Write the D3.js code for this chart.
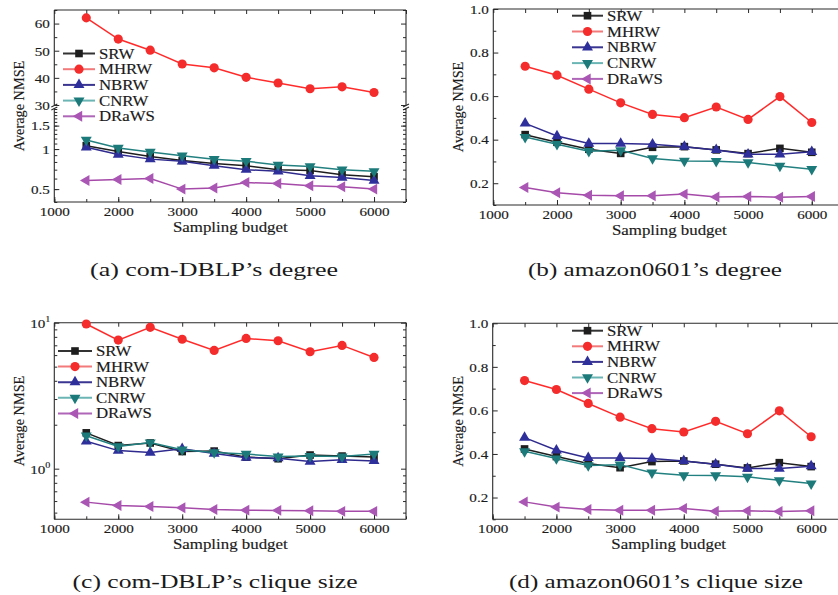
<!DOCTYPE html>
<html><head><meta charset="utf-8">
<script src="https://cdn.jsdelivr.net/npm/d3@7"></script>
<style>
html,body{margin:0;padding:0;background:#fff;}
svg{display:block;}
text{font-family:"Liberation Serif","Times New Roman",serif;fill:#1a1a1a;}
</style></head>
<body>
<svg id="chart" width="838" height="595"></svg>
<script>
// ---------- DATA ----------
const budgets = [1500, 2000, 2500, 3000, 3500, 4000, 4500, 5000, 5500, 6000];
const seriesNames = ["SRW", "MHRW", "NBRW", "CNRW", "DRaWS"];
const xTicks = [1000, 2000, 3000, 4000, 5000, 6000];

// (a) com-DBLP's degree
const dblpDegreeSRW   = [1.06, 0.96, 0.88, 0.82, 0.78, 0.75, 0.70, 0.69, 0.64, 0.62];
const dblpDegreeMHRW  = [62.1, 54.3, 50.2, 45.1, 43.7, 40.2, 38.1, 36.0, 36.7, 34.6];
const dblpDegreeNBRW  = [1.03, 0.91, 0.84, 0.81, 0.75, 0.70, 0.68, 0.63, 0.61, 0.58];
const dblpDegreeCNRW  = [1.17, 1.02, 0.95, 0.89, 0.84, 0.81, 0.76, 0.74, 0.70, 0.68];
const dblpDegreeDRaWS = [0.58, 0.59, 0.60, 0.50, 0.51, 0.56, 0.55, 0.53, 0.52, 0.50];
const dblpDegreeUpperTicks = [30, 40, 50, 60];
const dblpDegreeLowerTicks = [0.5, 1, 1.5];

// (b) amazon0601's degree
const amazonDegreeSRW   = [0.423, 0.388, 0.356, 0.337, 0.365, 0.368, 0.353, 0.336, 0.360, 0.342];
const amazonDegreeMHRW  = [0.737, 0.696, 0.632, 0.569, 0.516, 0.501, 0.550, 0.493, 0.598, 0.479];
const amazonDegreeNBRW  = [0.475, 0.417, 0.382, 0.382, 0.379, 0.368, 0.353, 0.333, 0.333, 0.344];
const amazonDegreeCNRW  = [0.412, 0.379, 0.347, 0.351, 0.314, 0.302, 0.301, 0.295, 0.279, 0.264];
const amazonDegreeDRaWS = [0.180, 0.156, 0.145, 0.142, 0.142, 0.150, 0.137, 0.139, 0.136, 0.139];
const amazonTicks = [0.2, 0.4, 0.6, 0.8, 1.0];

// (c) com-DBLP's clique size
const dblpCliqueSRW   = [1.76, 1.44, 1.50, 1.31, 1.32, 1.20, 1.17, 1.24, 1.22, 1.20];
const dblpCliqueMHRW  = [9.8, 7.6, 9.3, 7.7, 6.46, 7.8, 7.52, 6.32, 6.99, 5.78];
const dblpCliqueNBRW  = [1.54, 1.33, 1.29, 1.37, 1.27, 1.19, 1.18, 1.12, 1.15, 1.13];
const dblpCliqueCNRW  = [1.68, 1.42, 1.51, 1.35, 1.29, 1.26, 1.21, 1.22, 1.21, 1.26];
const dblpCliqueDRaWS = [0.59, 0.56, 0.55, 0.54, 0.526, 0.52, 0.518, 0.515, 0.51, 0.51];
const dblpCliqueTicks = [1, 10];

// (d) amazon0601's clique size
const amazonCliqueSRW   = [0.423, 0.388, 0.356, 0.337, 0.365, 0.368, 0.353, 0.336, 0.360, 0.342];
const amazonCliqueMHRW  = [0.737, 0.696, 0.632, 0.569, 0.516, 0.501, 0.550, 0.493, 0.598, 0.479];
const amazonCliqueNBRW  = [0.475, 0.417, 0.382, 0.382, 0.379, 0.368, 0.353, 0.333, 0.333, 0.344];
const amazonCliqueCNRW  = [0.412, 0.379, 0.347, 0.351, 0.314, 0.302, 0.301, 0.295, 0.279, 0.264];
const amazonCliqueDRaWS = [0.180, 0.156, 0.145, 0.142, 0.142, 0.150, 0.137, 0.139, 0.136, 0.139];

const captions = ["(a) com-DBLP\u2019s degree", "(b) amazon0601\u2019s degree",
                  "(c) com-DBLP\u2019s clique size", "(d) amazon0601\u2019s clique size"];
const xTitle = "Sampling budget";
const yTitle = "Average NMSE";

// ---------- STYLE ----------
const lineColors   = {SRW:"#1e1e1e", MHRW:"#ff2b2b", NBRW:"#2f2b8e", CNRW:"#238080", DRaWS:"#a54aa8"};
const markerColors = {SRW:"#1e1e1e", MHRW:"#f42c2c", NBRW:"#2f2f9c", CNRW:"#1c7a7a", DRaWS:"#aa56b4"};
const legendColors = {SRW:"#333333", MHRW:"#f37a7a", NBRW:"#3a3590", CNRW:"#6cb5b5", DRaWS:"#b066b8"};
const markerDefs = {
  SRW:   {type:d3.symbolSquare,   size:58, rot:0},
  MHRW:  {type:d3.symbolCircle,   size:66, rot:0},
  NBRW:  {type:d3.symbolTriangle, size:52, rot:0},
  CNRW:  {type:d3.symbolTriangle, size:52, rot:180},
  DRaWS: {type:d3.symbolTriangle, size:52, rot:-90}
};
const SX = 1.12;   // horizontal stretch of the original figure's lettering
const TXT_STROKE = 0.15;

const svg = d3.select("#chart");
const axisColor = "#2a2a2a";

function heavy(sel) {
  return sel.attr("stroke", "#1a1a1a").attr("stroke-width", TXT_STROKE);
}

function drawSeries(g, x, y, valuesByName) {
  seriesNames.forEach(name => {
    const vals = valuesByName[name];
    const pts = budgets.map((b, i) => [b, vals[i]]);
    g.append("path").datum(pts)
      .attr("fill", "none").attr("stroke", lineColors[name]).attr("stroke-width", 1.5)
      .attr("d", d3.line().x(d => x(d[0])).y(d => y(d[1])));
    const md = markerDefs[name];
    g.selectAll(null).data(pts).enter().append("path")
      .attr("d", d3.symbol().type(md.type).size(md.size))
      .attr("fill", markerColors[name])
      .attr("transform", d => `translate(${x(d[0])},${y(d[1])}) rotate(${md.rot})`);
  });
}

function drawLegend(g, lx0, lx1, ty, rowGap) {
  seriesNames.forEach((name, i) => {
    const yy = ty + i * rowGap;
    g.append("line").attr("x1", lx0).attr("x2", lx1).attr("y1", yy).attr("y2", yy)
      .attr("stroke", legendColors[name]).attr("stroke-width", 2);
    const md = markerDefs[name];
    g.append("path").attr("d", d3.symbol().type(md.type).size(md.size))
      .attr("fill", markerColors[name])
      .attr("transform", `translate(${(lx0 + lx1) / 2},${yy}) rotate(${md.rot})`);
    g.append("text").attr("transform", `translate(${lx1 + 4},${yy + 5}) scale(1.2,1)`)
      .attr("font-size", 14).call(heavy).text(name);
  });
}

function styleAxis(sel) {
  sel.select(".domain").remove();
  sel.selectAll(".tick line").attr("stroke", axisColor).attr("stroke-width", 1);
  sel.selectAll(".tick text").attr("font-size", 13.5).attr("fill", "#1a1a1a")
     .attr("font-family", "Liberation Serif, serif")
     .attr("transform", `scale(${SX},1)`).call(heavy);
}

function xAxes(g, x, y0, y1) {
  const minor = d3.range(1000, 6501, 500);
  g.append("g").attr("transform", `translate(0,${y1})`)
    .call(d3.axisBottom(x).tickValues(minor).tickSize(-3).tickFormat("")).call(styleAxis);
  g.append("g").attr("transform", `translate(0,${y1})`)
    .call(d3.axisBottom(x).tickValues(xTicks).tickSize(-5).tickPadding(4).tickFormat(d3.format("d"))).call(styleAxis);
  g.append("g").attr("transform", `translate(0,${y0})`)
    .call(d3.axisTop(x).tickValues(minor).tickSize(-4).tickFormat("")).call(styleAxis);
}

function yAxes(g, y, x0, x1, major, minor, fmt) {
  g.append("g").attr("transform", `translate(${x0},0)`)
    .call(d3.axisLeft(y).tickValues(minor).tickSize(-3).tickFormat("")).call(styleAxis);
  g.append("g").attr("transform", `translate(${x0},0)`)
    .call(d3.axisLeft(y).tickValues(major).tickSize(-5).tickPadding(4).tickFormat(fmt)).call(styleAxis);
  g.append("g").attr("transform", `translate(${x1},0)`)
    .call(d3.axisRight(y).tickValues(minor).tickSize(-3).tickFormat("")).call(styleAxis);
  g.append("g").attr("transform", `translate(${x1},0)`)
    .call(d3.axisRight(y).tickValues(major).tickSize(-5).tickFormat("")).call(styleAxis);
}

function titles(g, p) {
  g.append("text").attr("transform", `translate(${p.x0 + 176},${p.y1 + 30}) scale(1.18,1)`)
    .attr("text-anchor", "middle").attr("font-size", 14.3).call(heavy).text(xTitle);
  g.append("text").attr("transform", `translate(${p.x0 - 35},${(p.y0 + p.y1) / 2}) rotate(-90)`)
    .attr("text-anchor", "middle").attr("dy", "0.35em").attr("font-size", 14.3).call(heavy).text(yTitle);
}

function frame(g, p, breakY) {
  const st = s => s.attr("stroke", axisColor).attr("stroke-width", 1.1).attr("fill", "none");
  g.append("line").attr("x1", p.x0).attr("x2", p.x1).attr("y1", p.y0).attr("y2", p.y0).call(st);
  g.append("line").attr("x1", p.x0).attr("x2", p.x1).attr("y1", p.y1).attr("y2", p.y1).call(st);
  [p.x0, p.x1].forEach(xx => {
    if (breakY == null) {
      g.append("line").attr("x1", xx).attr("x2", xx).attr("y1", p.y0).attr("y2", p.y1).call(st);
    } else {
      g.append("line").attr("x1", xx).attr("x2", xx).attr("y1", p.y0).attr("y2", breakY - 1.5).call(st);
      g.append("line").attr("x1", xx).attr("x2", xx).attr("y1", breakY + 1.5).attr("y2", p.y1).call(st);
      [-1.5, 1.5].forEach(o => {
        g.append("line").attr("x1", xx - 3).attr("x2", xx + 3)
          .attr("y1", breakY + o + 1.5).attr("y2", breakY + o - 1.5).call(st);
      });
    }
  });
}

// ---------- PANEL A ----------
(function() {
  const p = {x0:54.3, x1:406, y0:10, y1:202};
  const g = svg.append("g");
  const x = d3.scaleLinear().domain([1000, 6500]).range([p.x0, p.x1]);
  const yUp = d3.scaleLinear().domain([30, 65]).range([105, p.y0]);
  const yLo = d3.scaleLog().domain([0.4, 2.0]).range([p.y1, 109]);
  const y = v => v >= 20 ? yUp(v) : yLo(v);
  const vals = {SRW:dblpDegreeSRW, MHRW:dblpDegreeMHRW, NBRW:dblpDegreeNBRW, CNRW:dblpDegreeCNRW, DRaWS:dblpDegreeDRaWS};
  yAxes(g, yUp, p.x0, p.x1, dblpDegreeUpperTicks, [35, 45, 55, 65], d3.format("d"));
  yAxes(g, yLo, p.x0, p.x1, dblpDegreeLowerTicks, d3.range(4, 21).map(v => v / 10), d => d === 1 ? "1" : d3.format(".1f")(d));
  xAxes(g, x, p.y0, p.y1);
  frame(g, p, 107);
  drawSeries(g, x, y, vals);
  drawLegend(g, 63, 95, 53.5, 15.7);
  titles(g, p);
})();

// ---------- PANEL B ----------
(function() {
  const p = {x0:493.3, x1:843.6, y0:9, y1:205};
  const g = svg.append("g");
  const x = d3.scaleLinear().domain([1000, 6500]).range([p.x0, p.x1]);
  const y = d3.scaleLinear().domain([0.1, 1.0]).range([p.y1, p.y0]);
  const vals = {SRW:amazonDegreeSRW, MHRW:amazonDegreeMHRW, NBRW:amazonDegreeNBRW, CNRW:amazonDegreeCNRW, DRaWS:amazonDegreeDRaWS};
  yAxes(g, y, p.x0, p.x1, amazonTicks, [0.1, 0.3, 0.5, 0.7, 0.9], d3.format(".1f"));
  xAxes(g, x, p.y0, p.y1);
  frame(g, p, null);
  drawSeries(g, x, y, vals);
  drawLegend(g, 572, 603, 15.7, 15.8);
  titles(g, p);
})();

// ---------- PANEL C ----------
(function() {
  const p = {x0:54.3, x1:406, y0:322.7, y1:519.3};
  const g = svg.append("g");
  const x = d3.scaleLinear().domain([1000, 6500]).range([p.x0, p.x1]);
  const y = d3.scaleLog().domain([0.45, 10]).range([p.y1, p.y0]);
  const vals = {SRW:dblpCliqueSRW, MHRW:dblpCliqueMHRW, NBRW:dblpCliqueNBRW, CNRW:dblpCliqueCNRW, DRaWS:dblpCliqueDRaWS};
  const minor = [0.5, 0.6, 0.7, 0.8, 0.9, 2, 3, 4, 5, 6, 7, 8, 9];
  yAxes(g, y, p.x0, p.x1, dblpCliqueTicks, minor, () => "");
  // power-of-ten labels with superscripts
  dblpCliqueTicks.forEach(v => {
    const t = g.append("text").attr("transform", `translate(${p.x0 - 4},${y(v) + 5}) scale(${SX},1)`)
      .attr("text-anchor", "end").attr("font-size", 13.5).call(heavy);
    t.append("tspan").text("10");
    t.append("tspan").attr("dy", -6).attr("font-size", 9).text(Math.round(Math.log10(v)));
  });
  xAxes(g, x, p.y0, p.y1);
  frame(g, p, null);
  drawSeries(g, x, y, vals);
  drawLegend(g, 58, 92, 351, 15.6);
  titles(g, p);
})();

// ---------- PANEL D ----------
(function() {
  const p = {x0:492.7, x1:843, y0:323.3, y1:519.3};
  const g = svg.append("g");
  const x = d3.scaleLinear().domain([1000, 6500]).range([p.x0, p.x1]);
  const y = d3.scaleLinear().domain([0.1, 1.0]).range([p.y1, p.y0]);
  const vals = {SRW:amazonCliqueSRW, MHRW:amazonCliqueMHRW, NBRW:amazonCliqueNBRW, CNRW:amazonCliqueCNRW, DRaWS:amazonCliqueDRaWS};
  yAxes(g, y, p.x0, p.x1, amazonTicks, [0.1, 0.3, 0.5, 0.7, 0.9], d3.format(".1f"));
  xAxes(g, x, p.y0, p.y1);
  frame(g, p, null);
  drawSeries(g, x, y, vals);
  drawLegend(g, 572, 603, 330.7, 15.6);
  titles(g, p);
})();

// ---------- CAPTIONS ----------
const capPos = [[214, 276], [655, 276], [215, 588], [656, 588]];
captions.forEach((c, i) => {
  svg.append("text").attr("x", capPos[i][0]).attr("y", capPos[i][1])
    .attr("text-anchor", "middle").attr("font-size", 18.5)
    .attr("font-family", "DejaVu Serif, serif").attr("textLength", [248, 254, 285, 294][i])
    .attr("lengthAdjust", "spacingAndGlyphs").text(c);
});
</script>
</body></html>
